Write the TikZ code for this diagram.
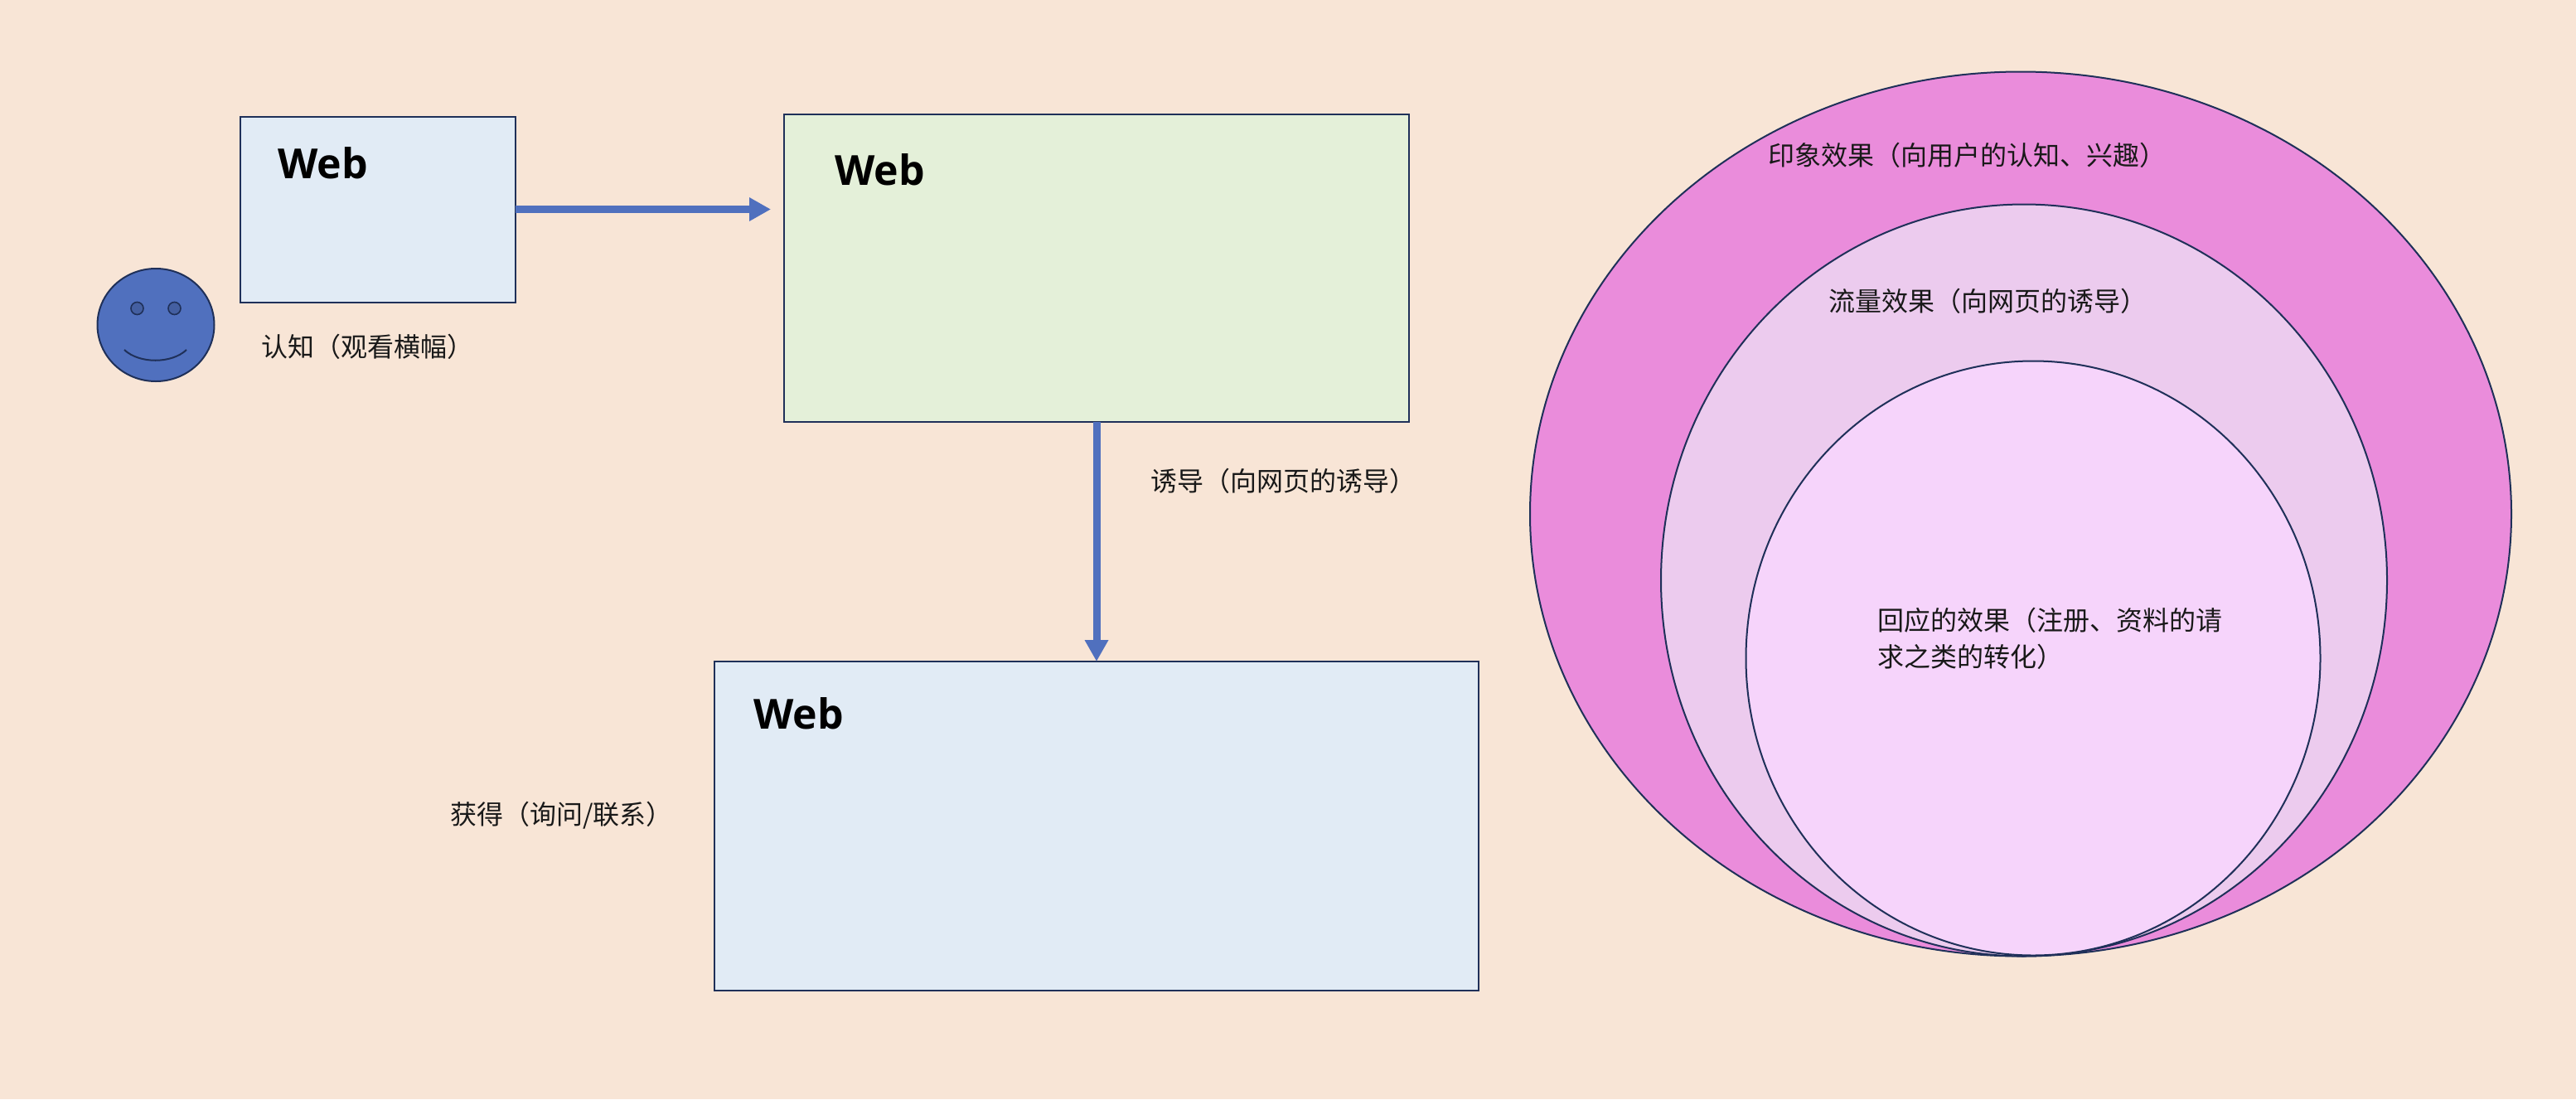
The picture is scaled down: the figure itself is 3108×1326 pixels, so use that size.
\documentclass[tikz,border=0pt]{standalone}
\usepackage{fontspec}
\usetikzlibrary{arrows.meta,shapes.geometric}
\setmainfont{Open Sans}
\newfontfamily\cjk{Noto Sans CJK SC}
\definecolor{bgc}{HTML}{F8E5D6}
\definecolor{edgec}{HTML}{1F3059}
\definecolor{bluebox}{HTML}{E1EBF5}
\definecolor{greenbox}{HTML}{E4F0D9}
\definecolor{arrowc}{HTML}{5070BE}
\definecolor{outerc}{HTML}{EA8CDB}
\definecolor{midc}{HTML}{ECCBEE}
\definecolor{innerc}{HTML}{F6D4FB}
\tikzset{
  panel/.style={draw=edgec,line width=2pt,inner sep=0pt,outer sep=0pt},
  ring/.style={ellipse,draw=edgec,line width=2pt,inner sep=0pt,outer sep=0pt},
  webtitle/.style={anchor=base west,inner sep=0pt,font=\fontsize{50}{60}\selectfont\bfseries},
  lbl/.style={anchor=base west,inner sep=0pt,font=\fontsize{32}{44}\selectfont\cjk,text=black!90},
  flow/.style={draw=arrowc,line width=9pt,-{Triangle[length=26pt,width=27pt]}},
}
\begin{document}
\begin{tikzpicture}[x=1pt,y=-1pt]
\useasboundingbox (0,0) rectangle (3108,1326);
\fill[bgc] (0,0) rectangle (3108,1326);
% boxes
\node[panel,fill=bluebox,minimum width=332pt,minimum height=224pt] (b1) at (456,252.5) {};
\node[panel,fill=greenbox,minimum width=754pt,minimum height=371pt] (b2) at (1323,323.5) {};
\node[panel,fill=bluebox,minimum width=922pt,minimum height=397pt] (b3) at (1323,996.5) {};
\node[webtitle] (w1) at (335,215) {Web};
\node[webtitle] (w2) at (1007,223) {Web};
\node[webtitle] (w3) at (909,879) {Web};
% connectors
\draw[flow,shorten >=16pt] (b1.east) -- (b1.east -| b2.west);
\draw[flow] (b2.south) -- (b3.north);
% smiley
\node[ring,fill=arrowc,minimum width=141pt,minimum height=136pt] (face) at (188,392) {};
\node[ring,fill=arrowc!85!black,minimum width=15pt,minimum height=15pt,line width=1.6pt] (eyeL) at (165.5,372) {};
\node[ring,fill=arrowc!85!black,minimum width=15pt,minimum height=15pt,line width=1.6pt] (eyeR) at (210.5,372) {};
\coordinate (smileL) at (150,422);
\coordinate (smileR) at (225,422);
\draw[edgec,line width=2pt] (smileL) .. controls (168,439) and (207,439) .. (smileR);
% rings
\node[ring,fill=outerc,minimum width=1184pt,minimum height=1067pt] (r1) at (2438,620) {};
\node[ring,fill=midc,minimum width=876pt,minimum height=907pt] (r2) at (2442,700) {};
\node[ring,fill=innerc,minimum width=693pt,minimum height=717pt] (r3) at (2453,794) {};
% labels
\node[lbl] (l1) at (315,430) {认知（观看横幅）};
\node[lbl] (l2) at (1388,592) {诱导（向网页的诱导）};
\node[lbl] (l3) at (543,994) {获得（询问/联系）};
\node[lbl] (l4) at (2133,199) {印象效果（向用户的认知、兴趣）};
\node[lbl] (l5) at (2206,375) {流量效果（向网页的诱导）};
\node[lbl,anchor=north west,align=left] (l6) at (2265,733) {回应的效果（注册、资料的请\\求之类的转化）};
\end{tikzpicture}
\end{document}
